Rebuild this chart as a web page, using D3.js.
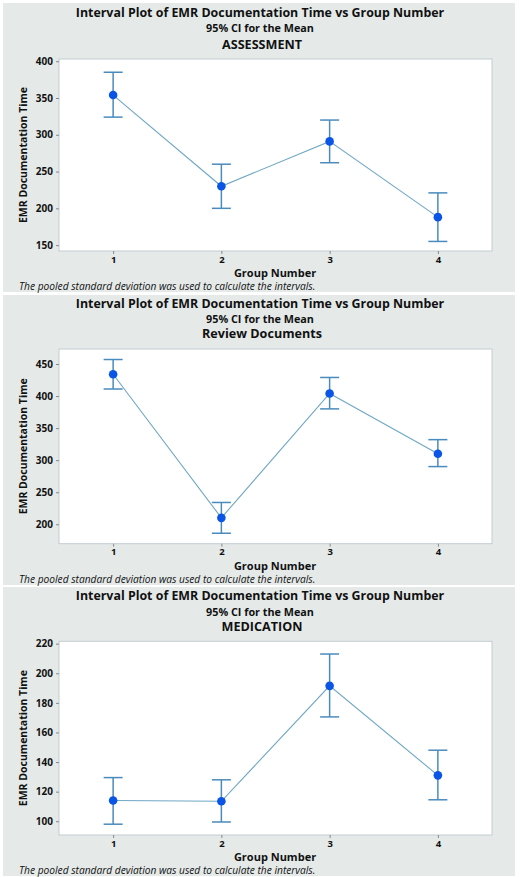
<!DOCTYPE html>
<html>
<head>
<meta charset="utf-8">
<script src="https://cdn.jsdelivr.net/npm/d3@7"></script>
<style>
  html, body { margin: 0; padding: 0; background: #ffffff; }
  svg { display: block; }
  text { font-family: "Open Sans", "DejaVu Sans", sans-serif; fill: #111; }
</style>
</head>
<body>
<svg id="chart" width="520" height="877"></svg>
<script>
// ---- Data ----
const groups = [1, 2, 3, 4];
const mainTitle = "Interval Plot of EMR Documentation Time vs Group Number";
const subTitle = "95% CI for the Mean";
const xLabel = "Group Number";
const yLabel = "EMR Documentation Time";
const note = "The pooled standard deviation was used to calculate the intervals.";

const panelNames = ["ASSESSMENT", "Review Documents", "MEDICATION"];

const assessMean = [354, 230, 291, 188];
const assessLow  = [324, 200, 262, 155];
const assessHigh = [385, 260, 320, 221];
const assessTicks = [150, 200, 250, 300, 350, 400];

const reviewMean = [434, 210, 404, 310];
const reviewLow  = [411, 186, 380, 290];
const reviewHigh = [457, 234, 429, 332];
const reviewTicks = [200, 250, 300, 350, 400, 450];

const medMean = [114, 113.5, 191.5, 131];
const medLow  = [98, 99.5, 170.5, 114.5];
const medHigh = [129.5, 128, 213, 148];
const medTicks = [100, 120, 140, 160, 180, 200, 220];

// ---- Layout ----
const panels = [
  { name: panelNames[0], mean: assessMean, low: assessLow, high: assessHigh, ticks: assessTicks,
    domain: [142, 403], bg: [3, 292], tY: [13, 28, 45], plot: [59, 251] },
  { name: panelNames[1], mean: reviewMean, low: reviewLow, high: reviewHigh, ticks: reviewTicks,
    domain: [169.7, 473.4], bg: [295, 585], tY: [303.6, 319, 333.6], plot: [349, 543.7] },
  { name: panelNames[2], mean: medMean, low: medLow, high: medHigh, ticks: medTicks,
    domain: [90.7, 221.6], bg: [587, 876], tY: [596, 612, 626.5], plot: [641.3, 835] }
];

const svg = d3.select("#chart");
const plotLeft = 59, plotRight = 492;

const x = d3.scaleLinear().domain([0.5, 4.5]).range([plotLeft, plotRight]);

panels.forEach(p => {
  const g = svg.append("g");
  // panel background
  g.append("rect").attr("x", 3).attr("y", p.bg[0]).attr("width", 512).attr("height", p.bg[1] - p.bg[0])
    .attr("fill", "#e5eae9");

  // titles
  g.append("text").attr("x", 260).attr("y", p.tY[0]).attr("dy", "0.35em").attr("text-anchor", "middle")
    .attr("font-size", 12.4).attr("font-weight", "bold").text(mainTitle);
  g.append("text").attr("x", 260).attr("y", p.tY[1]).attr("dy", "0.35em").attr("text-anchor", "middle")
    .attr("font-size", 10.8).attr("font-weight", "bold").text(subTitle);
  g.append("text").attr("x", 262).attr("y", p.tY[2]).attr("dy", "0.35em").attr("text-anchor", "middle")
    .attr("font-size", 12.6).attr("font-weight", "bold").text(p.name);

  const y = d3.scaleLinear().domain(p.domain).range([p.plot[1], p.plot[0]]);

  // plot area
  g.append("rect").attr("x", plotLeft).attr("y", p.plot[0])
    .attr("width", plotRight - plotLeft).attr("height", p.plot[1] - p.plot[0])
    .attr("fill", "#ffffff").attr("stroke", "#c3ccd0").attr("stroke-width", 1);

  // y axis
  const yAxis = d3.axisLeft(y).tickValues(p.ticks).tickSize(3).tickPadding(3).tickFormat(d3.format("d"));
  const ya = g.append("g").attr("transform", `translate(${plotLeft},0)`).call(yAxis);
  ya.select(".domain").remove();
  ya.selectAll(".tick line").attr("stroke", "#888");
  ya.selectAll(".tick text").attr("font-size", 10).attr("font-weight", "bold").attr("fill", "#111")
    .attr("font-family", "'Open Sans', sans-serif");

  // x axis
  const xAxis = d3.axisBottom(x).tickValues(groups).tickSize(3).tickPadding(2).tickFormat(d3.format("d"));
  const xa = g.append("g").attr("transform", `translate(0,${p.plot[1]})`).call(xAxis);
  xa.select(".domain").remove();
  xa.selectAll(".tick line").attr("stroke", "#888");
  xa.selectAll(".tick text").attr("font-size", 9.5).attr("font-weight", "bold").attr("fill", "#111")
    .attr("font-family", "'Open Sans', sans-serif");

  // axis labels
  g.append("text").attr("x", 275).attr("y", p.plot[1] + 22).attr("dy", "0.35em").attr("text-anchor", "middle")
    .attr("font-size", 11).attr("font-weight", "bold").text(xLabel);
  const midY = (p.plot[0] + p.plot[1]) / 2;
  g.append("text").attr("transform", `translate(23,${midY}) rotate(-90)`).attr("dy", "0.35em")
    .attr("text-anchor", "middle").attr("font-size", 10.5).attr("font-weight", "bold").text(yLabel);

  // note
  g.append("text").attr("x", 19).attr("y", p.plot[1] + 35.5).attr("dy", "0.35em")
    .attr("font-size", 10.2).attr("font-style", "italic").text(note);

  // connecting line
  const line = d3.line().x((d, i) => x(groups[i])).y(d => y(d));
  g.append("path").datum(p.mean).attr("d", line).attr("fill", "none")
    .attr("stroke", "#6fa7c4").attr("stroke-width", 1.1);

  // error bars
  const eb = g.append("g").attr("stroke", "#4a8bbd").attr("stroke-width", 1.5).attr("fill", "none");
  groups.forEach((gr, i) => {
    const cx = x(gr);
    eb.append("line").attr("x1", cx).attr("x2", cx).attr("y1", y(p.low[i])).attr("y2", y(p.high[i]));
    eb.append("line").attr("x1", cx - 9.5).attr("x2", cx + 9.5).attr("y1", y(p.high[i])).attr("y2", y(p.high[i]));
    eb.append("line").attr("x1", cx - 9.5).attr("x2", cx + 9.5).attr("y1", y(p.low[i])).attr("y2", y(p.low[i]));
  });

  // mean points
  g.append("g").selectAll("circle").data(p.mean).join("circle")
    .attr("cx", (d, i) => x(groups[i])).attr("cy", d => y(d)).attr("r", 4.3)
    .attr("fill", "#0a55e6");
});
</script>
</body>
</html>
